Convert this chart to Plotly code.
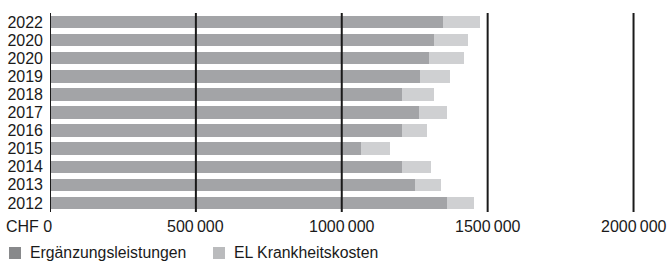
import plotly.graph_objects as go

years = ["2022", "2020", "2020", "2019", "2018", "2017", "2016", "2015", "2014", "2013", "2012"]
ergaenzung = [1346000, 1316000, 1299000, 1269000, 1206000, 1264000, 1206000, 1065000, 1206000, 1251000, 1360000]
krankheit = [128000, 118000, 119000, 103000, 109000, 96000, 86000, 99000, 99000, 89000, 93000]
x_ticks = [0, 500000, 1000000, 1500000, 2000000]
x_tick_labels = ["CHF 0", "500\u2009000", "1000\u2009000", "1500\u2009000", "2000\u2009000"]
series_names = ["Ergänzungsleistungen", "EL Krankheitskosten"]

FONT = "Liberation Sans, Arial, sans-serif"
TXT = "#1a1a1a"
DARK = "#a3a4a7"
LIGHT = "#cfd0d2"
DARK_LEG = "#88898b"
LIGHT_LEG = "#babbbd"

n = len(years)
ypos = list(range(n - 1, -1, -1))

fig = go.Figure()
fig.add_trace(go.Bar(y=ypos, x=ergaenzung, orientation="h", name=series_names[0],
                     marker=dict(color=DARK, line=dict(width=0)), showlegend=False))
fig.add_trace(go.Bar(y=ypos, x=krankheit, orientation="h", name=series_names[1],
                     marker=dict(color=LIGHT, line=dict(width=0)), showlegend=False))

shapes = []
for v in x_ticks:
    shapes.append(dict(type="line", xref="x", yref="paper", x0=v, x1=v, y0=0, y1=1,
                       line=dict(color=TXT, width=2), layer="above"))

annotations = []
for v, t in zip(x_ticks, x_tick_labels):
    annotations.append(dict(x=v, y=0, xref="x", yref="paper", text=t, showarrow=False,
                            xanchor="right" if v == 0 else "center", yanchor="top",
                            xshift=4 if v == 0 else 0, yshift=-4,
                            font=dict(family=FONT, size=16, color=TXT)))

# legend
PH = 199.0
leg = [(9, DARK_LEG, series_names[0]), (213, LIGHT_LEG, series_names[1])]
for x0, col, name in leg:
    shapes.append(dict(type="rect", xref="paper", yref="paper",
                       x0=(x0 - 50) / 620, x1=(x0 + 12 - 50) / 620,
                       y0=-(247 - 212) / PH, y1=-(259 - 212) / PH,
                       fillcolor=col, line=dict(width=0)))
    annotations.append(dict(x=(x0 + 19 - 50) / 620, y=-(253 - 212) / PH, xref="paper", yref="paper",
                            text=name, showarrow=False, xanchor="left", yanchor="middle",
                            font=dict(family=FONT, size=15.8, color=TXT)))

fig.update_layout(
    barmode="stack",
    bargap=0.31,
    width=670, height=262,
    margin=dict(l=50, r=0, t=13, b=50),
    paper_bgcolor="white", plot_bgcolor="white",
    font=dict(family=FONT, size=16, color=TXT),
    showlegend=False,
    shapes=shapes,
    annotations=annotations,
    xaxis=dict(range=[0, 2125000], showgrid=False, zeroline=False, showticklabels=False,
               ticks="", fixedrange=True, automargin=False),
    yaxis=dict(tickmode="array", tickvals=ypos, ticktext=years, range=[-0.5, n - 0.5],
               showgrid=False, zeroline=False, ticks="", ticklabelstandoff=6, automargin=False,
               fixedrange=True, tickfont=dict(family=FONT, size=16, color=TXT)),
)

fig.write_html("out.html", config={"displayModeBar": False, "staticPlot": True},
               post_script="document.body.style.margin='0';document.body.style.padding='0';document.body.style.overflow='hidden';")
